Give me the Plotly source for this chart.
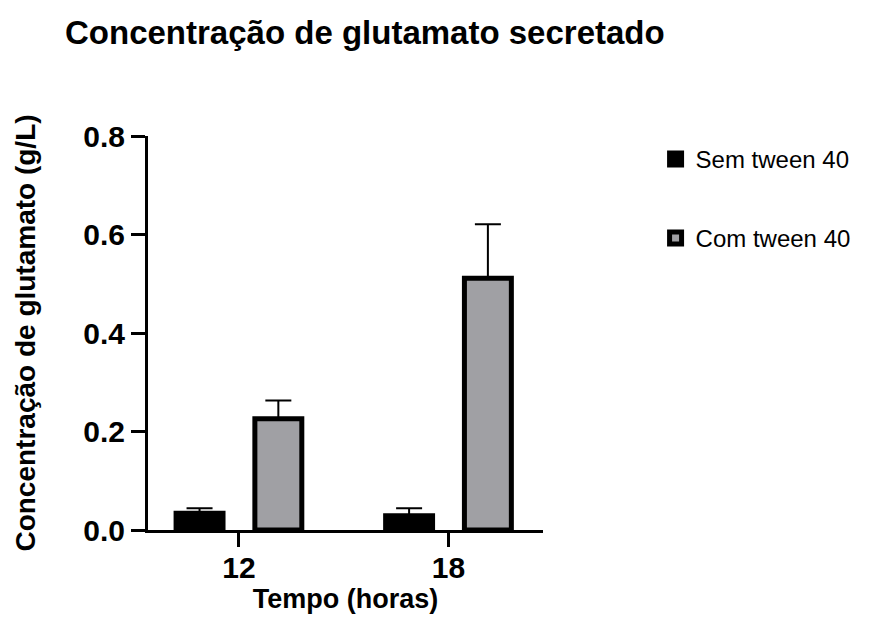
import plotly.graph_objects as go

categories = ["12", "18"]
series_names = ["Sem tween 40", "Com tween 40"]
sem_tween = [0.034, 0.029]
sem_tween_err = [0.010, 0.015]
com_tween = [0.226, 0.511]
com_tween_err = [0.037, 0.110]
y_ticks = [0.0, 0.2, 0.4, 0.6, 0.8]

FONT = "Liberation Sans, Arial, sans-serif"

fig = go.Figure()
specs = [
    (series_names[0], sem_tween, sem_tween_err, "#000000", -0.300, "g1"),
    (series_names[1], com_tween, com_tween_err, "#A0A0A4", 0.076, "g2"),
]
for name, vals, err, color, off, grp in specs:
    fig.add_trace(go.Bar(
        x=categories, y=vals, name=name,
        offset=off, width=0.224,
        marker=dict(color=color, line=dict(color="#000000", width=5)),
        error_y=dict(type="data", array=err, arrayminus=[0] * len(err),
                     symmetric=False, color="#000000", thickness=2, width=13),
        legendgroup=grp,
    ))

fig.update_layout(
    width=872, height=623,
    margin=dict(l=140, r=337, t=128, b=101, autoexpand=False),
    paper_bgcolor="white", plot_bgcolor="white",
    barmode="overlay",
    font=dict(family=FONT, color="#000000"),
    title=dict(text="<b>Concentração de glutamato secretado</b>",
               font=dict(size=33, family=FONT, color="#000000"),
               x=57 / 872, xanchor="left", xref="container",
               y=1 - 13 / 623, yanchor="top", yref="container"),
    legend=dict(x=1.285, y=0.998, xanchor="left", yanchor="top",
                font=dict(size=24, family=FONT, color="#000000"),
                tracegroupgap=45, traceorder="grouped",
                bgcolor="rgba(0,0,0,0)"),
    showlegend=True,
)
fig.update_xaxes(
    type="category", range=[-0.434, 1.451], automargin=False,
    showline=True, linecolor="#000000", linewidth=3,
    ticks="outside", ticklen=14, tickwidth=3, tickcolor="#000000",
    tickfont=dict(size=30, family=FONT, color="#000000"),
    ticklabelstandoff=-5,
    tickprefix="<b>", ticksuffix="</b>",
    showgrid=False, zeroline=False,
    title=dict(text="<b>Tempo (horas)</b>", font=dict(size=27, family=FONT), standoff=2),
)
fig.update_yaxes(
    range=[0, 0.8], tickvals=y_ticks, ticktext=[f"<b>{v:.1f}</b>" for v in y_ticks],
    automargin=False,
    showline=True, linecolor="#000000", linewidth=3,
    ticks="outside", ticklen=14, tickwidth=3, tickcolor="#000000",
    tickfont=dict(size=30, family=FONT, color="#000000"),
    showgrid=False, zeroline=False,
    title=dict(text="<b>Concentração de glutamato (g/L)</b>", font=dict(size=28, family=FONT), standoff=40),
)

fig.write_html("out.html")
